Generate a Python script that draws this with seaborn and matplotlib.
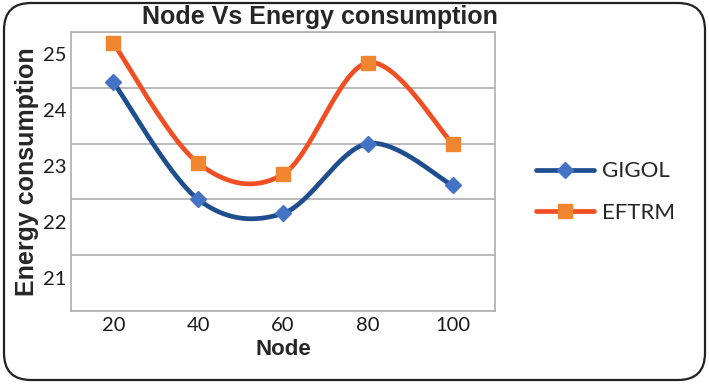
import numpy as np
import pandas as pd
import seaborn as sns
import matplotlib.pyplot as plt
from matplotlib.lines import Line2D
from matplotlib.patches import FancyBboxPatch

nodes = ["20", "40", "60", "80", "100"]
gigol = [24.5, 22.4, 22.15, 23.4, 22.65]
eftrm = [25.2, 23.05, 22.85, 24.85, 23.4]
ytick_vals = [21, 22, 23, 24, 25]
grid_vals = [20.4, 21.4, 22.4, 23.4, 24.4, 25.4]

series = {"GIGOL": gigol, "EFTRM": eftrm}
line_col = {"GIGOL": "#1f4e8f", "EFTRM": "#f04e23"}
mark_col = {"GIGOL": "#4472c4", "EFTRM": "#f0862f"}
mark_shape = {"GIGOL": "D", "EFTRM": "s"}
mark_size = {"GIGOL": 8.5, "EFTRM": 10.5}


def smooth(vals, n=40):
    # excel style smoothed line (bezier through the points)
    p = np.column_stack([np.arange(len(vals)), vals]).astype(float)
    out = []
    for i in range(len(p) - 1):
        p0 = p[i - 1] if i > 0 else p[i]
        p1, p2 = p[i], p[i + 1]
        p3 = p[i + 2] if i + 2 < len(p) else p[i + 1]
        c1 = p1 + (p2 - p0) / 6
        c2 = p2 - (p3 - p1) / 6
        t = np.linspace(0, 1, n)[:, None]
        seg = (1 - t) ** 3 * p1 + 3 * (1 - t) ** 2 * t * c1 + 3 * (1 - t) * t ** 2 * c2 + t ** 3 * p2
        out.append(seg if i == 0 else seg[1:])
    return np.vstack(out)


rows = []
pts = []
for name, vals in series.items():
    for x, y in smooth(vals):
        rows.append({"x": x, "y": y, "series": name})
    for i, v in enumerate(vals):
        pts.append({"x": i, "y": v, "series": name})
curve = pd.DataFrame(rows)
points = pd.DataFrame(pts)

sns.set_style("white")
fig = plt.figure(figsize=(7.09, 3.85), dpi=100)
ax = fig.add_axes([71 / 709, 74 / 385, 424 / 709, 279 / 385])

sns.lineplot(data=curve, x="x", y="y", hue="series", palette=line_col,
             linewidth=3.4, sort=False, estimator=None, ax=ax, legend=False)
for name in series:
    d = points[points.series == name]
    ax.plot(d.x, d.y, linestyle="none", marker=mark_shape[name],
            markersize=mark_size[name], color=mark_col[name], zorder=5)

ax.set_xlim(-0.5, 4.5)
ax.set_ylim(20.4, 25.4)
ax.set_xticks(range(len(nodes)), nodes)
ax.set_xticks(np.arange(-0.5, 5, 1), minor=True)
ax.set_yticks(ytick_vals, [str(v) for v in ytick_vals])
ax.set_yticks(grid_vals, minor=True)
ax.grid(False)
ax.grid(which="minor", axis="y", color="#b4b4b4", linewidth=1.3)
ax.tick_params(which="major", length=0, labelsize=14.5, colors="#1a1a1a")
ax.tick_params(axis="y", which="major", pad=3)
ax.tick_params(axis="x", which="major", pad=4)
ax.tick_params(which="minor", length=6, width=1.3, color="#b4b4b4", direction="out")
for lab in ax.get_xticklabels() + ax.get_yticklabels():
    lab.set_fontfamily("Lato")
for s in ax.spines.values():
    s.set_color("#b4b4b4")
    s.set_linewidth(1.3)

ax.set_xlabel("Node", fontsize=16, fontweight="bold", family="Liberation Sans", labelpad=4)
ax.set_ylabel("Energy consumption", fontsize=18, fontweight="bold", family="Liberation Sans", labelpad=3)
fig.text(320 / 709, 1 - 17 / 385, "Node Vs Energy consumption", ha="center", va="center",
         fontsize=18, fontweight="bold", family="Liberation Sans")

handles = [Line2D([], [], color=line_col[n], linewidth=3.4, marker=mark_shape[n],
                  markersize=mark_size[n], markerfacecolor=mark_col[n],
                  markeredgecolor=mark_col[n]) for n in series]
leg = fig.legend(handles, list(series), loc="center left", bbox_to_anchor=(516 / 709, 1 - 192 / 385),
                 frameon=False, handlelength=2.6, handletextpad=0.35, labelspacing=0.95,
                 prop={"family": "Lato", "size": 16})

border = FancyBboxPatch((0.04, 0.05), 7.01, 3.77, boxstyle="round,pad=0,rounding_size=0.27",
                        transform=fig.dpi_scale_trans, facecolor="none", edgecolor="#222222",
                        linewidth=1.6)
fig.patches.append(border)

fig.savefig("out.png", dpi=100)
